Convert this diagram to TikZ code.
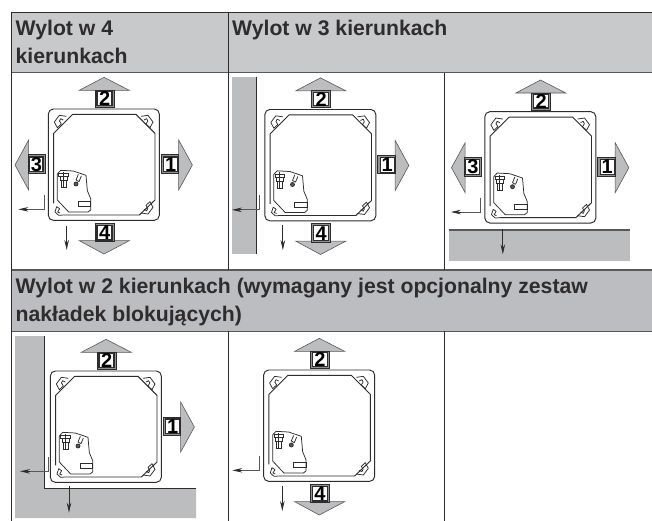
\documentclass[tikz,border=0pt]{standalone}
\usepackage{fontspec}
\setmainfont{Liberation Sans}
\usetikzlibrary{arrows.meta}
\definecolor{headA}{HTML}{C8C9CB}
\definecolor{headB}{HTML}{BCBDC0}
\definecolor{wallc}{HTML}{BCBDBF}
\definecolor{ink}{HTML}{2E2C2D}
\definecolor{rulec}{HTML}{58585A}
\tikzset{
  x=1pt,y=-1pt,
  headtext/.style={inner sep=0pt,anchor=north west,align=left,text=ink,font=\fontsize{21.2}{28.4}\selectfont\bfseries},
  digit/.style={inner sep=0pt,text=black,font=\fontsize{20}{22}\selectfont\bfseries},
  flowhead/.style={fill=wallc,draw=rulec,line width=.6pt,line join=miter},
  flowframe/.style={fill=wallc!70!ink,draw=ink,line width=1pt},
  flowface/.style={fill=white,draw=ink,line width=1.2pt},
  unitline/.style={draw=ink,line width=.95pt},
  fineline/.style={draw=ink,line width=.75pt},
  wall/.style={fill=wallc,draw=none},
  wallrim/.style={draw=ink,line width=.9pt},
  tablerule/.style={draw=ink,line width=.9pt},
  headrule/.style={draw=rulec,line width=1.1pt},
  leader/.style={draw=rulec,line width=.7pt},
  pointer/.style={draw=ink,line width=.8pt,-{Stealth[length=10pt,width=4.5pt]}},
}
\newcommand\hookmark{%
  \draw[fineline,line join=round] (199,349) -- (178,346) -- (163,366) -- (172,383)
    -- (184,372) .. controls (178,366) and (176,360) .. (182,356) -- (190,360);
}
\newcommand\unitbody{%
  \draw[unitline,rounded corners=5pt] (145,327) rectangle (478,661);
  \draw[unitline,line join=round] (161,610) -- (161,400) -- (218,343) -- (408,343)
    -- (465,400) -- (465,600) -- (418,645) -- (190,645);
  \hookmark
  \begin{scope}[shift={(622,0)},xscale=-1]\hookmark\end{scope}
  \begin{scope}[shift={(622,988)},xscale=-1,yscale=-1]\hookmark\end{scope}
  \begin{scope}[shift={(0,988)},yscale=-1]
    \draw[fineline,line join=round] (190,343) -- (176,342) -- (165,352) -- (170,368)
      -- (179,362) -- (173,352) -- (180,349);
  \end{scope}
  \draw[fineline,line join=round] (172,600) -- (172,522) -- (182,511) -- (220,513)
    -- (258,526) -- (262,572) -- (272,596) -- (272,630) -- (264,636) -- (206,636) -- cycle;
  \draw[fineline] (176,521) rectangle (205,530);
  \draw[fineline] (180,530) rectangle (201,542);
  \draw[fineline] (184,542) rectangle (198,563);
  \draw[fineline] (190,516) -- (190,563);
  \draw[fineline,fill=rulec] (228,552) circle (6);
  \draw[fineline] (228,540) -- (235,523) (237,545) -- (244,528) (228,540) -- (237,545);
  \draw[fineline] (235,605) rectangle (272,620);
}
\newcommand\flowup[1]{%
  \draw[flowhead] (238,271) -- (312,232) -- (388,271) -- cycle;
  \draw[flowframe] (285,271) rectangle (343,322);
  \draw[flowface] (291,275) rectangle (336,316);
  \node[digit] (nU) at (314,296) {#1};
}
\newcommand\flowright[1]{%
  \draw[flowhead] (536,420) -- (577,495) -- (536,570) -- cycle;
  \draw[flowframe] (484,465) rectangle (536,520);
  \draw[flowface] (491,471) rectangle (533,515);
  \node[digit] (nR) at (512,493) {#1};
}
\newcommand\flowleft[1]{%
  \draw[flowhead] (86,420) -- (45,495) -- (86,570) -- cycle;
  \draw[flowframe] (85,465) rectangle (135,520);
  \draw[flowface] (88,471) rectangle (129,515);
  \node[digit] (nL) at (109,493) {#1};
}
\newcommand\flowdown[1]{%
  \draw[flowhead] (238,722) -- (312,762) -- (388,722) -- cycle;
  \draw[flowframe] (285,670) rectangle (343,725);
  \draw[flowface] (291,676) rectangle (336,720);
  \node[digit] (nD) at (314,698) {#1};
}
\newcommand\elbow[2]{%
  \draw[leader] (#1,585) -- (#1,628) -- (#2+30,628);
  \draw[pointer] (#2+30,628) -- (#2,628);
}
\newcommand\dropper[3]{\draw[pointer] (#1,#2) -- (#1,#3);}
\newcommand\panelat[4]{%
  \begin{scope}[name prefix=#1-,shift={(#2,#3)},scale=1/3,shift={(-144,-327)}]
    \unitbody
    #4
  \end{scope}
}
\begin{document}
\begin{tikzpicture}
\useasboundingbox (0,0) rectangle (652,521);
\fill[white] (0,0) rectangle (652,521);
\fill[headA] (11,12) rectangle (652,72.5);
\fill[headB] (11,270) rectangle (652,331);
\draw[tablerule] (11,12) -- (652,12);
\draw[headrule] (11,72.5) -- (652,72.5);
\draw[headrule] (11,270) -- (652,270);
\draw[headrule] (11,331.5) -- (652,331.5);
\draw[tablerule] (11,12) -- (11,521);
\draw[tablerule] (228,12) -- (228,270);
\draw[tablerule] (444,73) -- (444,270);
\draw[tablerule] (228,331) -- (228,521);
\draw[tablerule] (444,331) -- (444,521);
\node[headtext] (h1) at (15.5,20) {Wylot w 4\\kierunkach};
\node[headtext] (h2) at (232,20) {Wylot w 3 kierunkach};
\node[headtext] (h3) at (15.5,278) {Wylot w 2 kierunkach (wymagany jest opcjonalny zestaw\\nakładek blokujących)};
\fill[wall] (232,77) rectangle (256.7,253.5);
\draw[wallrim] (256.7,77) -- (256.7,253.5);
\fill[wall] (448.5,230) rectangle (630,260.5);
\draw[headrule] (448.5,230) -- (630,230);
\fill[wall] (15,336) -- (44.3,336) -- (44.3,488.3) -- (196,488.3) -- (196,518) -- (15,518) -- cycle;
\draw[wallrim] (44.3,336) -- (44.3,488.3) -- (196,488.3);
\panelat{a}{48}{109}{\flowup{2}\flowright{1}\flowleft{3}\flowdown{4}\elbow{132}{55}\dropper{200}{677}{750}}
\panelat{b}{264.5}{109.5}{\flowup{2}\flowright{1}\flowdown{4}\elbow{130}{46}\dropper{199}{675}{749}}
\panelat{c}{484.5}{111.7}{\flowup{2}\flowright{1}\flowleft{3}\elbow{131}{43}\dropper{199}{678}{755}}
\panelat{d}{50}{371}{\flowup{2}\flowright{1}\elbow{139}{54}\dropper{201}{672}{752}}
\panelat{e}{263.3}{370}{\flowup{2}\flowdown{4}\elbow{133}{51}\dropper{201}{675}{750}}
\end{tikzpicture}
\end{document}
